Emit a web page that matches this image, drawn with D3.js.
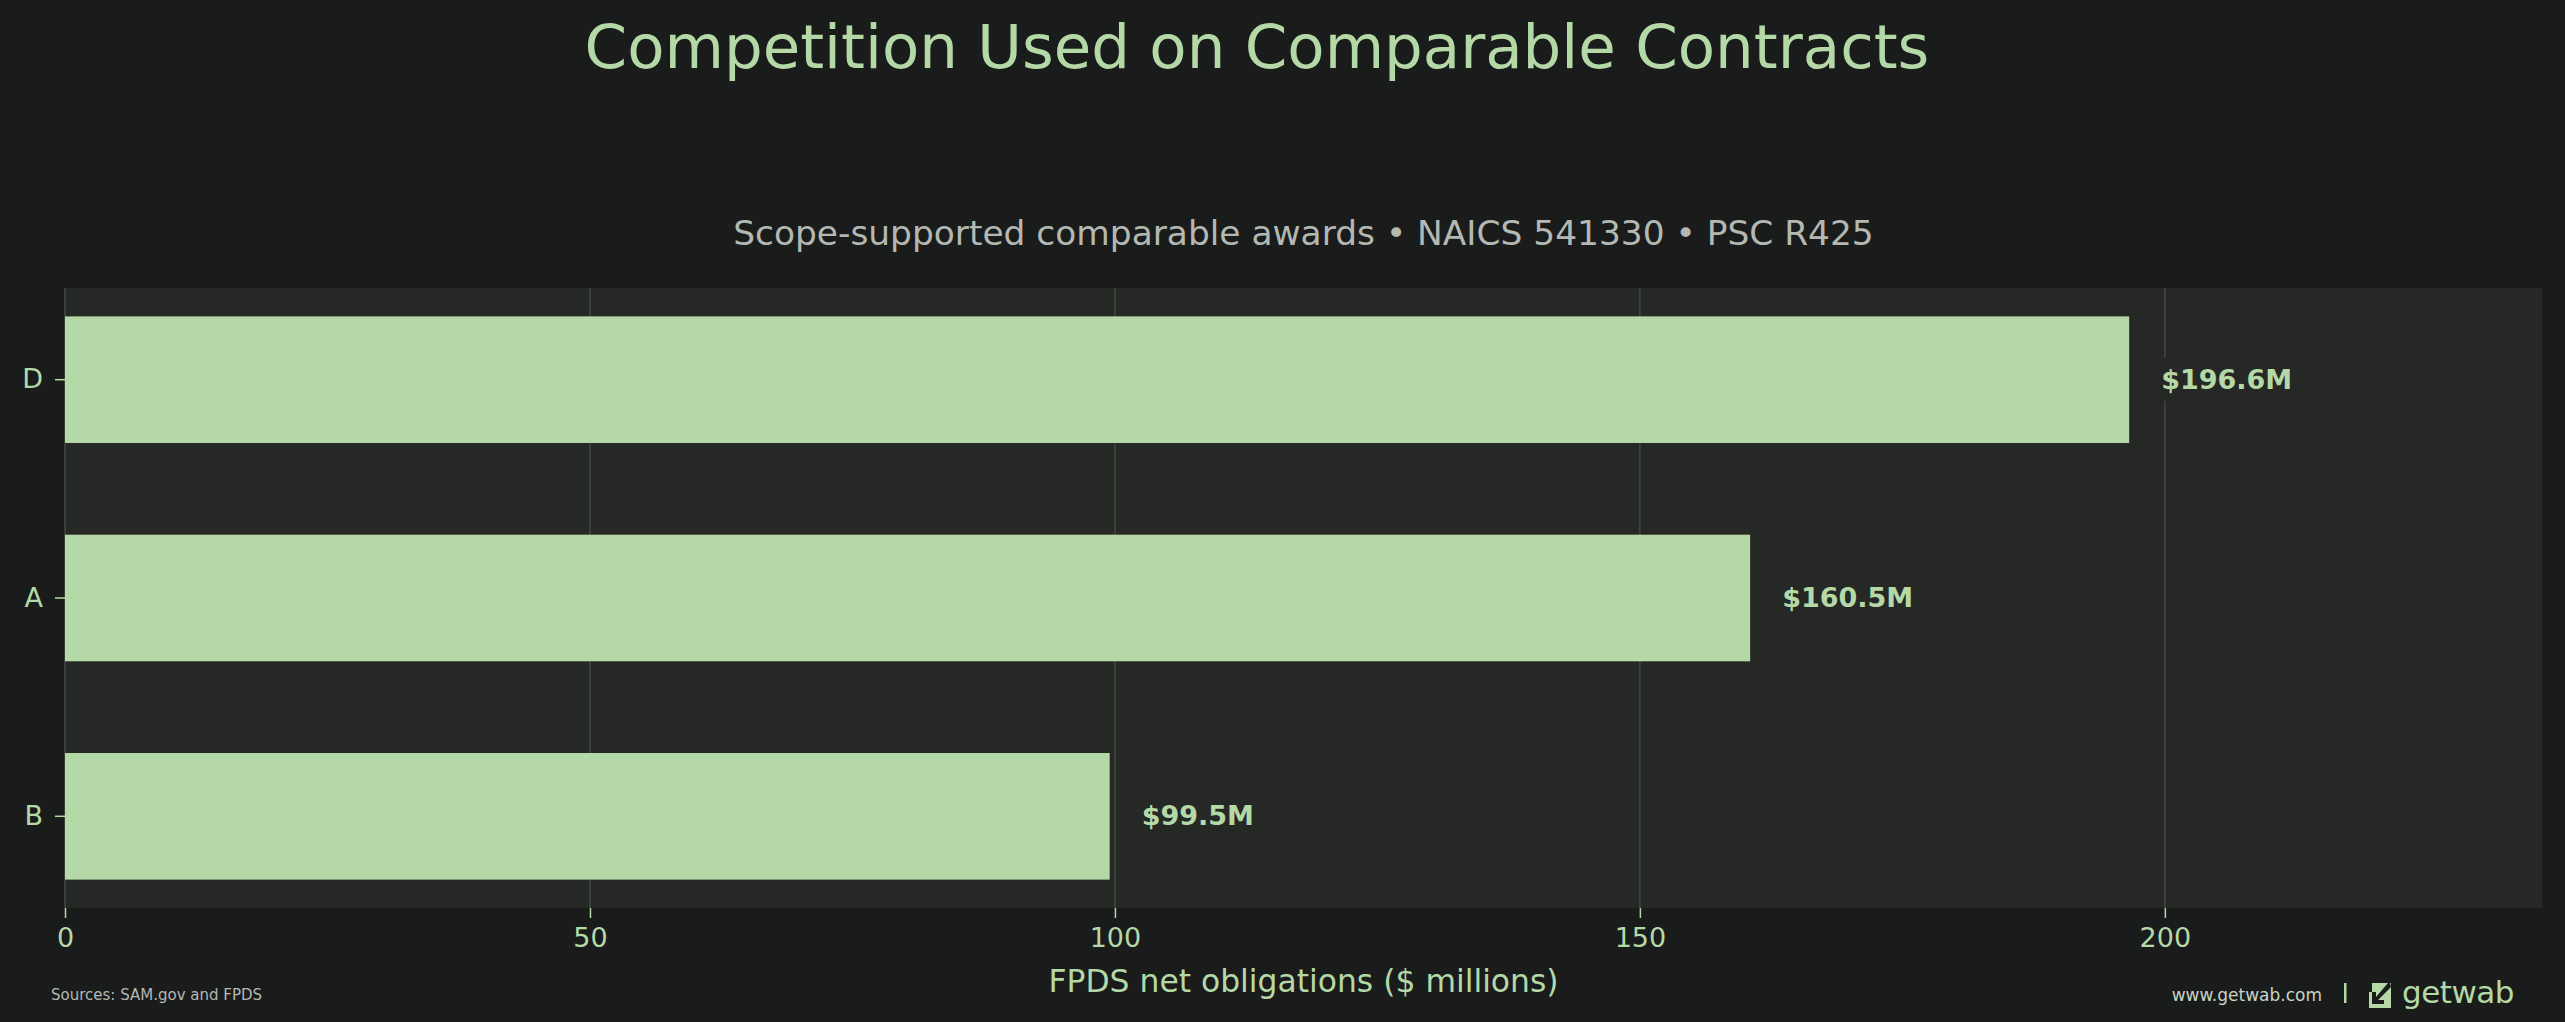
<!DOCTYPE html>
<html>
<head>
<meta charset="utf-8">
<script src="https://cdn.jsdelivr.net/npm/d3@7"></script>
<style>
  html, body { margin: 0; padding: 0; background: #1a1c1b; }
  svg { display: block; }
  text { font-family: "DejaVu Sans", sans-serif; }
</style>
</head>
<body>
<svg id="chart" width="2565" height="1022"></svg>
<script>
// data
const categories = ["D", "A", "B"];
const obligations = [196.6, 160.5, 99.5];
const valueLabels = ["$196.6M", "$160.5M", "$99.5M"];
const xTicks = [0, 50, 100, 150, 200];

const svg = d3.select("#chart");
const W = +svg.attr("width");
const H = +svg.attr("height");

const bg = "#1a1c1b";
const plotBg = "#262826";
const green = "#b5d8a7";
const grey = "#b3b8b3";

const margin = { top: 288, right: W - 2542, bottom: H - 908, left: 65 };
const iw = W - margin.left - margin.right;
const ih = H - margin.top - margin.bottom;

svg.append("rect").attr("width", W).attr("height", H).attr("fill", bg);

// titles
svg.append("text")
  .attr("x", 1257).attr("y", 68)
  .attr("text-anchor", "middle")
  .attr("font-size", 61)
  .attr("fill", green)
  .text("Competition Used on Comparable Contracts");

svg.append("text")
  .attr("x", margin.left + iw / 2).attr("y", 245)
  .attr("text-anchor", "middle")
  .attr("font-size", 34.4)
  .attr("fill", grey)
  .text("Scope-supported comparable awards • NAICS 541330 • PSC R425");

const g = svg.append("g").attr("transform", `translate(${margin.left},${margin.top})`);

g.append("rect").attr("width", iw).attr("height", ih).attr("fill", plotBg);

const x = d3.scaleLinear()
  .domain([0, d3.max(obligations) * 1.2])
  .range([0, iw]);

const y = d3.scaleBand()
  .domain(categories)
  .range([0, ih])
  .paddingInner(0.42)
  .paddingOuter(0.13);

// grid
g.append("g")
  .selectAll("line")
  .data(xTicks)
  .join("line")
  .attr("x1", d => x(d)).attr("x2", d => x(d))
  .attr("y1", 0).attr("y2", ih)
  .attr("stroke", "#444844")
  .attr("stroke-width", 1.5);

// bars
g.append("g")
  .selectAll("rect")
  .data(categories)
  .join("rect")
  .attr("x", 0)
  .attr("y", d => y(d))
  .attr("width", (d, i) => x(obligations[i]))
  .attr("height", y.bandwidth())
  .attr("fill", green);

// value labels with a plot-coloured box behind them
const lab = g.append("g")
  .selectAll("g")
  .data(categories)
  .join("g")
  .attr("transform", (d, i) => `translate(${x(obligations[i]) + 32},${y(d) + y.bandwidth() / 2})`);

lab.append("text")
  .attr("dy", "0.34em")
  .attr("font-size", 27)
  .attr("font-weight", "bold")
  .attr("fill", green)
  .text((d, i) => valueLabels[i])
  .each(function () {
    const b = this.getBBox();
    d3.select(this.parentNode).insert("rect", "text")
      .attr("x", b.x - 6).attr("y", b.y - 6)
      .attr("width", b.width + 12).attr("height", b.height + 12)
      .attr("fill", plotBg);
  });

// axes
const xAxis = g.append("g")
  .attr("transform", `translate(0,${ih})`)
  .call(d3.axisBottom(x).tickValues(xTicks).tickSize(10).tickPadding(10).tickFormat(d3.format("d")));

const yAxis = g.append("g")
  .call(d3.axisLeft(y).tickSize(10).tickPadding(12));

[xAxis, yAxis].forEach(a => {
  a.select(".domain").remove();
  a.selectAll(".tick line").attr("stroke", green).attr("stroke-width", 1.5);
  a.selectAll(".tick text")
    .attr("fill", green)
    .attr("font-size", 27)
    .attr("font-family", "DejaVu Sans, sans-serif");
});

svg.append("text")
  .attr("x", margin.left + iw / 2).attr("y", 992)
  .attr("text-anchor", "middle")
  .attr("font-size", 31.4)
  .attr("fill", green)
  .text("FPDS net obligations ($ millions)");

// footer
svg.append("text")
  .attr("x", 51).attr("y", 1000)
  .attr("font-size", 15)
  .attr("fill", grey)
  .text("Sources: SAM.gov and FPDS");

svg.append("text")
  .attr("x", 2322).attr("y", 1001)
  .attr("text-anchor", "end")
  .attr("font-size", 17)
  .attr("fill", "#c8d4c4")
  .text("www.getwab.com");

svg.append("rect")
  .attr("x", 2344).attr("y", 983)
  .attr("width", 2.5).attr("height", 20)
  .attr("fill", green);

// logo mark
const logo = svg.append("g").attr("transform", "translate(2369,983)");
logo.append("rect").attr("width", 22).attr("height", 25).attr("fill", green);
logo.append("path")
  .attr("d", "M21,0 L22,4 L9,17 L15,17 L15,21 L3,21 L3,9 L7,9 L7,14 L19,0 Z")
  .attr("fill", bg);
logo.append("rect").attr("x", 0).attr("y", 0).attr("width", 3).attr("height", 9).attr("fill", bg);

svg.append("text")
  .attr("x", 2402).attr("y", 1003)
  .attr("font-size", 31)
  .attr("font-family", "DejaVu Sans Mono, monospace")
  .attr("letter-spacing", -0.5)
  .attr("fill", green)
  .text("getwab");
</script>
</body>
</html>
